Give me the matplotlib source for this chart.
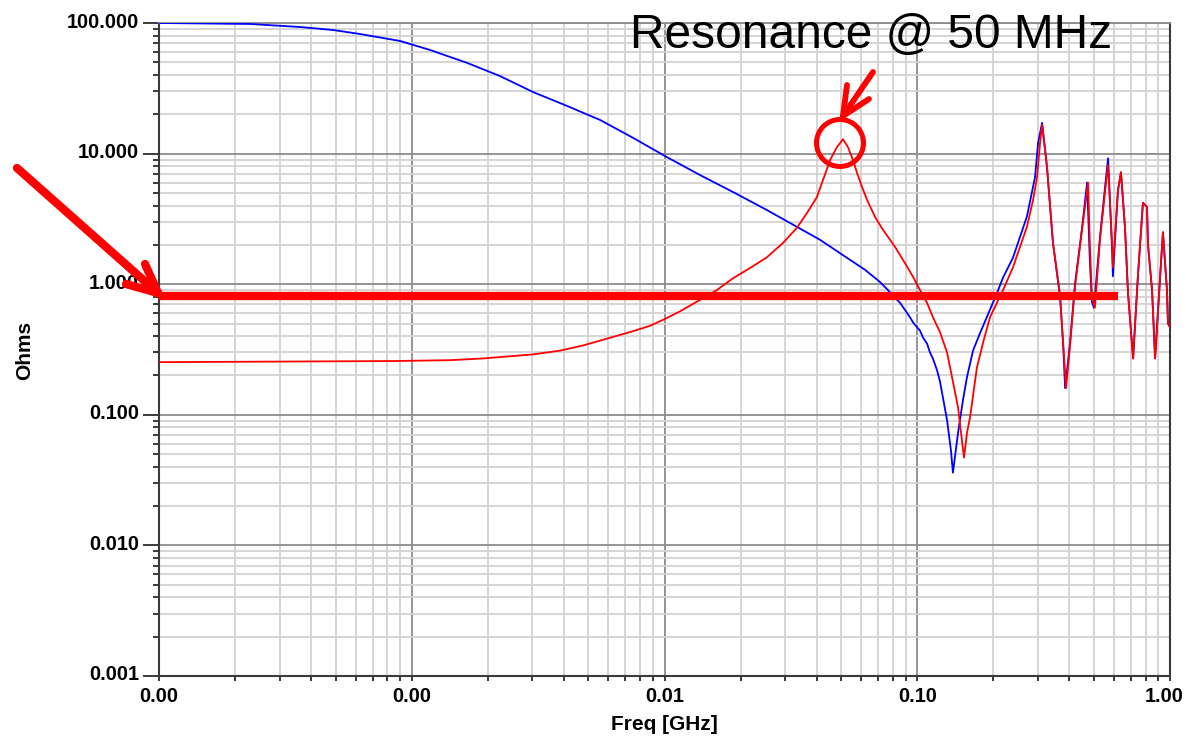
import matplotlib
matplotlib.use("Agg")
import matplotlib.pyplot as plt
from matplotlib.ticker import LogLocator, FuncFormatter, NullFormatter
from matplotlib.lines import Line2D
from matplotlib.patches import Ellipse
import matplotlib.transforms as mtransforms

# ---------------- data ----------------
blue_freq = [1e-4, 2.29e-4, 3.61e-4, 4.88e-4, 6.24e-4, 9.0e-4, 1.18e-3, 1.66e-3, 2.23e-3,
             3.02e-3, 4.11e-3, 5.56e-3, 7.51e-3, 0.0102, 0.0138, 0.0187, 0.0254, 0.0334,
             0.0412, 0.0508, 0.0621, 0.0712, 0.0758, 0.0831, 0.0855, 0.0935, 0.0962,
             0.1026, 0.1054, 0.1094, 0.1123, 0.1153, 0.1197, 0.1230, 0.1312, 0.1360,
             0.1384, 0.1449, 0.1517, 0.1574, 0.1662, 0.1770, 0.1941, 0.2070, 0.2184,
             0.2393, 0.2716, 0.2924, 0.3005, 0.3119, 0.3260,
             0.3443, 0.3673, 0.3776, 0.3846, 0.4018, 0.4207, 0.4487, 0.4699, 0.4819,
             0.4909, 0.5000, 0.5284, 0.5585, 0.5689, 0.5902, 0.5945, 0.6223, 0.6397,
             0.6637, 0.6823, 0.7145, 0.7464, 0.7816, 0.8110, 0.8185, 0.8492, 0.8730,
             0.9141, 0.9376, 0.9727, 0.9817, 1.0]
blue_ohms = [100, 98.3, 93.2, 88.4, 82.4, 72.8, 62.2, 49.4, 39.3,
             29.6, 23.2, 18.1, 13.2, 9.42, 6.86, 5.07, 3.70, 2.75,
             2.19, 1.67, 1.29, 1.04, 0.92, 0.76, 0.72, 0.56, 0.51,
             0.44, 0.39, 0.35, 0.30, 0.27, 0.22, 0.18, 0.091, 0.053,
             0.036, 0.072, 0.13, 0.195, 0.31, 0.42, 0.64, 0.86, 1.12,
             1.6, 3.3, 6.6, 12.0, 17.2, 7.9,
             2.06, 0.8, 0.35, 0.16, 0.35, 1.0, 2.7, 6.0, 1.5,
             0.73, 0.66, 2.3, 6.6, 9.2, 1.8, 1.15, 5.2, 7.2,
             2.7, 0.85, 0.27, 1.15, 4.2, 3.9, 2.0, 0.9, 0.27,
             1.15, 2.5, 0.9, 0.5, 0.47]

red_freq = [1e-4, 8.43e-4, 1.42e-3, 1.91e-3, 3.02e-3, 3.86e-3, 4.77e-3, 7.31e-3, 8.76e-3,
            0.0100, 0.01152, 0.0138, 0.01613, 0.01866, 0.0218, 0.02544, 0.02943, 0.0334,
            0.03663, 0.0401, 0.04238, 0.0452, 0.0481, 0.05085, 0.0532, 0.0557, 0.0578,
            0.0605, 0.0633, 0.0681, 0.0731, 0.0817, 0.0910, 0.0962, 0.1026, 0.1094,
            0.1153, 0.1230, 0.1312, 0.1349, 0.1449, 0.1531, 0.1574, 0.1618, 0.1722,
            0.1830, 0.1941, 0.2184, 0.2393, 0.2716, 0.2871, 0.2979, 0.3060, 0.3119,
            0.3260, 0.3443, 0.3673, 0.3776, 0.3880, 0.4018, 0.4207, 0.4487, 0.4742,
            0.4819, 0.4909, 0.5045, 0.5284, 0.5585, 0.5689, 0.5902, 0.5945, 0.6223,
            0.6397, 0.6637, 0.6823, 0.7145, 0.7464, 0.7816, 0.8110, 0.8185, 0.8492,
            0.8730, 0.9141, 0.9376, 0.9727, 0.9817, 1.0]
red_ohms = [0.253, 0.258, 0.262, 0.27, 0.29, 0.31, 0.34, 0.43, 0.48,
            0.54, 0.62, 0.757, 0.903, 1.11, 1.33, 1.61, 2.07, 2.70,
            3.51, 4.65, 6.28, 8.93, 11.2, 12.9, 11.2, 8.93, 7.10,
            5.55, 4.42, 3.27, 2.62, 1.93, 1.37, 1.14, 0.90, 0.718,
            0.56, 0.43, 0.30, 0.23, 0.115, 0.047, 0.073, 0.096, 0.23,
            0.37, 0.56, 0.9, 1.35, 2.75, 4.4, 6.6, 12.0, 16.6,
            8.0, 2.1, 0.82, 0.36, 0.16, 0.33, 0.95, 2.6, 6.0,
            2.0, 0.8, 0.66, 2.2, 6.0, 8.2, 2.0, 1.35, 5.2,
            7.2, 2.7, 0.85, 0.27, 1.15, 4.2, 3.9, 2.0, 0.9,
            0.27, 1.15, 2.5, 0.9, 0.5, 0.47]

x_ticks = [1e-4, 1e-3, 1e-2, 1e-1, 1.0]
y_ticks = [1e-3, 1e-2, 1e-1, 1.0, 10.0, 100.0]
target_level = 0.813          # thick red reference line (Ohms)
target_span = [1e-4, 0.62]    # GHz
title_text = "Resonance @ 50 MHz"
x_label = "Freq [GHz]"
y_label = "Ohms"

# ---------------- figure ----------------
W, H = 1186, 738
fig = plt.figure(figsize=(W / 100, H / 100), dpi=100)
plt.rcParams['font.family'] = ['Liberation Sans', 'DejaVu Sans']

ax = fig.add_axes([159 / W, 1 - 676 / H, (1170 - 159) / W, (676 - 23) / H])
ax.set_xscale('log')
ax.set_yscale('log')

ax.set_xticks(x_ticks)
ax.set_yticks(y_ticks)
ax.xaxis.set_minor_locator(LogLocator(base=10, subs=range(2, 10), numticks=20))
ax.yaxis.set_minor_locator(LogLocator(base=10, subs=range(2, 10), numticks=20))
ax.xaxis.set_major_formatter(FuncFormatter(lambda v, p: f"{v:.2f}"))
ax.yaxis.set_major_formatter(FuncFormatter(lambda v, p: f"{v:.3f}"))
ax.xaxis.set_minor_formatter(NullFormatter())
ax.yaxis.set_minor_formatter(NullFormatter())
ax.set_xlim(1e-4, 1)
ax.set_ylim(1e-3, 100)

ax.grid(which='minor', color='#d2d2d2', lw=1.3)
ax.grid(which='major', color='#8c8c8c', lw=1.3)
ax.set_axisbelow(True)

tick_col = '#3a3a3a'
ax.tick_params(axis='y', which='major', direction='out', length=11.5, width=1.4,
               color=tick_col, pad=2.8, labelsize=14.3)
ax.tick_params(axis='y', which='minor', direction='out', length=4.3, width=1.4, color=tick_col)
ax.tick_params(axis='x', which='both', direction='out', length=3.6, width=1.4,
               color=tick_col, pad=4.0, labelsize=14.3)

up = mtransforms.ScaledTranslation(0, 3 / 100, fig.dpi_scale_trans)
for t in ax.yaxis.get_major_ticks():
    t.label1.set_fontweight('bold')
    t.label1.set_transform(t.label1.get_transform() + up)
xt = ax.xaxis.get_major_ticks()
for t in xt:
    t.label1.set_fontweight('bold')
xt[-1].label1.set_transform(xt[-1].label1.get_transform() +
                            mtransforms.ScaledTranslation(-6 / 100, 0, fig.dpi_scale_trans))

for side in ['left', 'bottom', 'right']:
    ax.spines[side].set_color(tick_col)
    ax.spines[side].set_linewidth(1.5)
ax.spines['top'].set_color('#8c8c8c')
ax.spines['top'].set_linewidth(1.3)

ax.plot(blue_freq, blue_ohms, color='#0000ff', lw=1.3, zorder=3)
ax.plot(red_freq, red_ohms, color='#ff0000', lw=1.3, zorder=4)

ax.hlines(target_level, target_span[0], target_span[1], color='#ff0000', lw=6, zorder=5,
          clip_on=False)

fig.text(25 / W, 1 - 350 / H, y_label, rotation=90, ha='center', va='center',
         fontsize=15, fontweight='bold')
fig.text(664 / W, 1 - 725 / H, x_label, ha='center', va='center',
         fontsize=15, fontweight='bold')
fig.text(630 / W, 1 - 48 / H, title_text, ha='left', va='baseline', fontsize=34.5)


# ---------------- hand-drawn red annotations (pixel positions) ----------------
def px(x, y):
    return x / W, 1 - y / H


def seg(p0, p1, lw):
    (x0, y0), (x1, y1) = px(*p0), px(*p1)
    fig.add_artist(Line2D([x0, x1], [y0, y1], transform=fig.transFigure, color='#ff0000',
                          lw=lw, solid_capstyle='round', zorder=10))


# big arrow to the 1-Ohm target line
seg((17, 168), (158, 293), 6.0)
seg((158, 293), (145, 264), 6.0)
seg((158, 293), (126, 284), 6.0)

# small arrow pointing to the resonance circle
seg((873, 72), (843, 116), 4.2)
seg((843, 116), (847, 85), 4.2)
seg((843, 116), (869, 99), 4.2)

# circle around resonance peak
cx, cy = px(840, 143)
fig.add_artist(Ellipse((cx, cy), 47 / W, 47 / H, transform=fig.transFigure, fill=False,
                       edgecolor='#ff0000', lw=3.6, zorder=10))

fig.savefig("out.png", dpi=100)
